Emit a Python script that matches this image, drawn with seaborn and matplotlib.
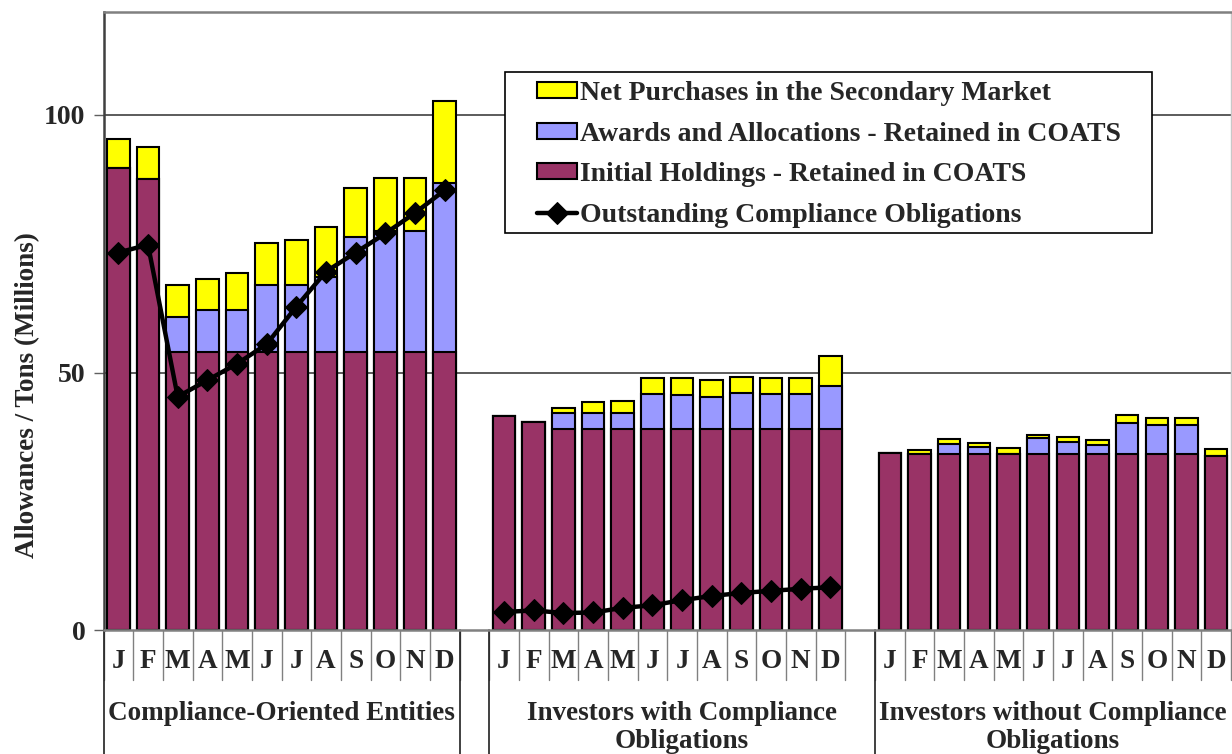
import numpy as np
import pandas as pd
import matplotlib
matplotlib.use("Agg")
import matplotlib.pyplot as plt
import matplotlib.transforms as mtransforms
from matplotlib.patches import Rectangle
import seaborn as sns

# ---- data (millions of allowances / tons) ----
months = ["J", "F", "M", "A", "M", "J", "J", "A", "S", "O", "N", "D"]
group_names = [
    ["Compliance-Oriented Entities"],
    ["Investors with Compliance", "Obligations"],
    ["Investors without Compliance", "Obligations"],
]

coe_initial = [89.8, 87.6, 54.0, 54.0, 54.0, 54.0, 54.0, 54.0, 54.0, 54.0, 54.0, 54.0]
coe_awards = [0.0, 0.0, 6.8, 8.1, 8.1, 13.0, 13.0, 14.5, 22.3, 23.5, 23.5, 32.7]
coe_net = [5.5, 6.1, 6.1, 6.1, 7.2, 8.1, 8.7, 9.8, 9.5, 10.3, 10.3, 16.1]
coe_oblig = [73.3, 74.8, 45.3, 48.5, 51.7, 55.5, 62.8, 69.6, 73.3, 77.0, 81.0, 85.4]

iwc_initial = [41.6, 40.3, 39.0, 39.0, 39.0, 39.0, 39.0, 39.0, 39.0, 39.0, 39.0, 39.0]
iwc_awards = [0.0, 0.0, 3.1, 3.1, 3.1, 6.8, 6.6, 6.2, 7.1, 6.8, 6.8, 8.3]
iwc_net = [0.0, 0.0, 1.1, 2.2, 2.4, 3.2, 3.4, 3.3, 3.1, 3.2, 3.2, 5.9]
iwc_oblig = [3.5, 3.8, 3.3, 3.4, 4.3, 4.8, 5.8, 6.6, 7.2, 7.6, 8.0, 8.3]

iwo_initial = [34.3, 34.2, 34.2, 34.2, 34.2, 34.2, 34.2, 34.2, 34.2, 34.2, 34.2, 33.8]
iwo_awards = [0.0, 0.0, 2.0, 1.3, 0.0, 3.0, 2.4, 1.7, 6.0, 5.7, 5.7, 0.0]
iwo_net = [0.0, 0.8, 0.8, 0.9, 1.1, 0.7, 0.8, 0.9, 1.5, 1.3, 1.3, 1.3]

series_labels = [
    "Net Purchases in the Secondary Market",
    "Awards and Allocations - Retained in COATS",
    "Initial Holdings - Retained in COATS",
    "Outstanding Compliance Obligations",
]
colors = {"net": "#FFFF00", "awards": "#9999FF", "initial": "#993366"}

# ---- build a long table; each group occupies 12 slots plus one blank slot ----
rows = []
blocks = [
    (coe_initial, coe_awards, coe_net, coe_oblig),
    (iwc_initial, iwc_awards, iwc_net, iwc_oblig),
    (iwo_initial, iwo_awards, iwo_net, [np.nan] * 12),
]
for g, (ini, awd, net, obl) in enumerate(blocks):
    for i in range(12):
        rows.append(dict(group=g, month=months[i], pos=g * 13 + i,
                         initial=ini[i], awards=awd[i], net=net[i], oblig=obl[i]))
df = pd.DataFrame(rows)
df["lvl_awards"] = df["initial"] + df["awards"]
df["lvl_total"] = df["lvl_awards"] + df["net"]

# ---- figure ----
sns.set_style("white")
plt.rcParams["font.family"] = ["Liberation Serif", "DejaVu Serif"]
plt.rcParams["font.weight"] = "bold"

W, H = 1232, 754
fig = plt.figure(figsize=(W / 100, H / 100), dpi=100)
ax_l, ax_r, ax_t, ax_b = 103.5, 1231.0, 12.0, 630.0
ax = fig.add_axes([ax_l / W, (H - ax_b) / H, (ax_r - ax_l) / W, (ax_b - ax_t) / H])

bar_kw = dict(native_scale=True, width=0.76, saturation=1, edgecolor="black",
              linewidth=1.5, errorbar=None, ax=ax)
sns.barplot(data=df, x="pos", y="lvl_total", color=colors["net"], label=series_labels[0], **bar_kw)
sns.barplot(data=df, x="pos", y="lvl_awards", color=colors["awards"], label=series_labels[1], **bar_kw)
sns.barplot(data=df, x="pos", y="initial", color=colors["initial"], label=series_labels[2], **bar_kw)

line_kw = dict(x="pos", y="oblig", color="black", linewidth=3.2, marker="D",
               markersize=11, markeredgecolor="black", estimator=None, ax=ax, zorder=4)
sns.lineplot(data=df[df.group == 0], label=series_labels[3], **line_kw)
sns.lineplot(data=df[df.group == 1], label="_nolegend_", **line_kw)

# ---- axes styling ----
ax.set_xlim(-0.5, 37.5)
ax.set_ylim(0, 120)
ax.set_yticks([0, 50, 100])
ax.set_yticklabels(["0", "50", "100"], fontsize=20, fontweight="bold")
ax.set_xticks([])
ax.set_xlabel("")
ax.tick_params(axis="y", direction="out", length=7, width=1, color="#606060", pad=6, left=True)
ax.set_axisbelow(True)
for yv in (50, 100):
    ax.axhline(yv, color="#404040", linewidth=1.2, zorder=0)
ax.spines["left"].set_color("#404040")
ax.spines["left"].set_linewidth(1.8)
ax.spines["top"].set_color("#808080")
ax.spines["top"].set_linewidth(1.8)
ax.spines["bottom"].set_color("#808080")
ax.spines["bottom"].set_linewidth(1.8)
ax.spines["right"].set_color("#c8c8c8")
ax.spines["right"].set_linewidth(1.0)

ax.set_ylabel("Allowances / Tons (Millions)", fontsize=19.5, fontweight="bold")
ax.yaxis.set_label_coords(-0.056, 0.38)

# ---- two-level category labels below the axis ----
trans = mtransforms.blended_transform_factory(ax.transData, ax.transAxes)
px = 1.0 / (ax_b - ax_t)  # one pixel in axes-fraction units (vertical)
month_y = -(662 - ax_b) * px
row1_y = -(713 - ax_b) * px
row2_y = -(742 - ax_b) * px
month_div_bottom = -(680 - ax_b) * px
group_div_bottom = -(H - ax_b) * px

for b in np.arange(-0.5, 38.0, 1.0):
    ax.plot([b, b], [0, month_div_bottom], transform=trans, color="#808080",
            linewidth=1.0, clip_on=False)
for b in (-0.5, 11.5, 12.5, 25.5):
    ax.plot([b, b], [0, group_div_bottom], transform=trans, color="#202020",
            linewidth=1.2, clip_on=False)

for _, r in df.iterrows():
    ax.text(r["pos"], month_y, r["month"], transform=trans, ha="center", va="center",
            fontsize=19.5, fontweight="bold")

group_centers = [5.5, 19.0, 31.5]
for c, lines in zip(group_centers, group_names):
    for k, txt in enumerate(lines):
        ax.text(c, row1_y if k == 0 else row2_y, txt, transform=trans, ha="center",
                va="center", fontsize=19.5, fontweight="bold")

# ---- legend with a framed box ----
ax_w = ax_r - ax_l
ax_h = ax_b - ax_t
bx0, bx1, by_top, by_bot = 505, 1152, 72, 233
ax.add_patch(Rectangle(((bx0 - ax_l) / ax_w, (ax_b - by_bot) / ax_h),
                       (bx1 - bx0) / ax_w, (by_bot - by_top) / ax_h,
                       transform=ax.transAxes, facecolor="white", edgecolor="black",
                       linewidth=1.2, zorder=5, clip_on=False))
handles, labels = ax.get_legend_handles_labels()
lookup = dict(zip(labels, handles))
ax.legend([lookup[s] for s in series_labels], series_labels,
          loc="upper left", bbox_to_anchor=((537 - ax_l) / ax_w, (ax_b - 81) / ax_h),
          frameon=False, borderpad=0, borderaxespad=0, handlelength=1.45,
          handleheight=0.5, handletextpad=0.08, labelspacing=0.56,
          prop={"family": "Liberation Serif", "weight": "bold", "size": 20})
ax.get_legend().set_zorder(6)

fig.savefig("out.png", dpi=100)
